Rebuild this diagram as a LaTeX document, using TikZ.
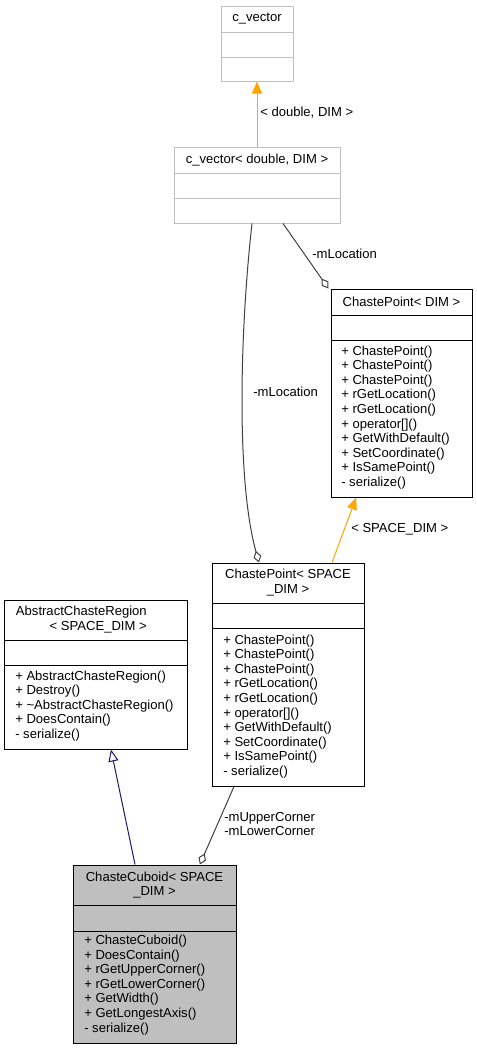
\documentclass[tikz,border=0pt]{standalone}
\usepackage{fontspec}
\setmainfont{Liberation Sans}
\usetikzlibrary{arrows.meta,fit}

\definecolor{edgegray}{HTML}{404040}
\definecolor{boxgray}{HTML}{BFBFBF}
\definecolor{inhorange}{HTML}{FFA500}
\definecolor{inhnavy}{HTML}{191970}

\tikzset{
  classbox/.style={draw=black, line width=0.75pt, inner sep=0pt},
  extbox/.style={classbox, draw=boxgray},
  divider/.style={line width=0.75pt},
  title/.style={inner sep=0pt, align=center},
  members/.style={inner sep=0pt, align=left, anchor=west},
  elabel/.style={inner sep=0pt, align=left, anchor=west},
  tmplinh/.style={draw=inhorange, line width=0.75pt, -{Triangle[length=9pt, width=7.5pt]}},
  pubinh/.style={draw=inhnavy, line width=0.75pt, -{Triangle[open, length=9pt, width=7.5pt]}},
  usage/.style={draw=edgegray, line width=0.75pt, -{Diamond[open, length=9pt, width=6pt]}}
}

\begin{document}
\begin{tikzpicture}[x=0.75pt, y=-0.75pt, font=\fontsize{9.8}{10.95}\selectfont]
    \useasboundingbox (0,0) rectangle (477,1051);

    \node[extbox, fit={(221,6) (293,81)}] (cvec) {};
    \draw[divider, boxgray] (221,32) -- (293,32) (221,57) -- (293,57);
    \node[title] (cvectitle) at (257,19) {c\_vector};

    \node[extbox, fit={(174,147) (340,223)}] (cvecdd) {};
    \draw[divider, boxgray] (174,173) -- (340,173) (174,198) -- (340,198);
    \node[title] (cvecddtitle) at (257,160) {c\_vector< double, DIM >};

    \node[classbox, fit={(331,289) (472,497)}] (cpdim) {};
    \draw[divider] (331,315) -- (472,315) (331,340) -- (472,340);
    \node[title] (cpdimtitle) at (401.5,302) {ChastePoint< DIM >};
    \node[members] (cpdimops) at (341,417.5) {+ ChastePoint()\\+ ChastePoint()\\+ ChastePoint()\\+ rGetLocation()\\+ rGetLocation()\\+ operator[]()\\+ GetWithDefault()\\+ SetCoordinate()\\+ IsSamePoint()\\- serialize()};

    \node[classbox, fit={(212,563) (364,786)}] (cpsd) {};
    \draw[divider] (212,603) -- (364,603) (212,628) -- (364,628);
    \node[title] (cpsdtitle) at (288,582.5) {ChastePoint< SPACE\\\_DIM >};
    \node[members] (cpsdops) at (223,706.5) {+ ChastePoint()\\+ ChastePoint()\\+ ChastePoint()\\+ rGetLocation()\\+ rGetLocation()\\+ operator[]()\\+ GetWithDefault()\\+ SetCoordinate()\\+ IsSamePoint()\\- serialize()};

    \node[classbox, fit={(4,600) (187,749)}] (acr) {};
    \draw[divider] (4,640) -- (187,640) (4,665) -- (187,665);
    \node[title, align=right, anchor=east] (acrtitle) at (147,619.5) {AbstractChasteRegion\\< SPACE\_DIM >};
    \node[members] (acrops) at (15,706) {+ AbstractChasteRegion()\\+ Destroy()\\+ \textasciitilde AbstractChasteRegion()\\+ DoesContain()\\- serialize()};

    \node[classbox, fill=boxgray, fit={(73,865) (236,1043)}] (cuboid) {};
    \draw[divider] (73,905) -- (236,905) (73,931) -- (236,931);
    \node[title] (cuboidtitle) at (154.5,885) {ChasteCuboid< SPACE\\\_DIM >};
    \node[members] (cuboidops) at (84,985) {+ ChasteCuboid()\\+ DoesContain()\\+ rGetUpperCorner()\\+ rGetLowerCorner()\\+ GetWidth()\\+ GetLongestAxis()\\- serialize()};

    \draw[tmplinh] (cvecdd.north) -- (cvec.south);
    \node[elabel] (cvecarg) at (260,113) {< double, DIM >};

    \draw[usage] ([xshift=19.5pt]cvecdd.south) -- ([xshift=-1.5pt]cpdim.north west);
    \node[elabel] (cpdimloc) at (312,254) {-mLocation};

    \draw[usage] ([xshift=-3.75pt]cvecdd.south) .. controls (240,330) and (236,480) .. ([xshift=-21.75pt]cpsd.north);
    \node[elabel] (cpsdloc) at (253,392) {-mLocation};

    \draw[tmplinh] ([xshift=33pt]cpsd.north) -- ([xshift=-34pt]cpdim.south);
    \node[elabel] (cpdimarg) at (351,529) {< SPACE\_DIM >};

    \draw[pubinh] ([xshift=-14.6pt]cuboid.north) -- ([xshift=11.6pt]acr.south);

    \draw[usage] ([xshift=-40.5pt]cpsd.south) -- ([xshift=34pt]cuboid.north);
    \node[elabel] (corners) at (224,824) {-mUpperCorner\\-mLowerCorner};
\end{tikzpicture}
\end{document}
